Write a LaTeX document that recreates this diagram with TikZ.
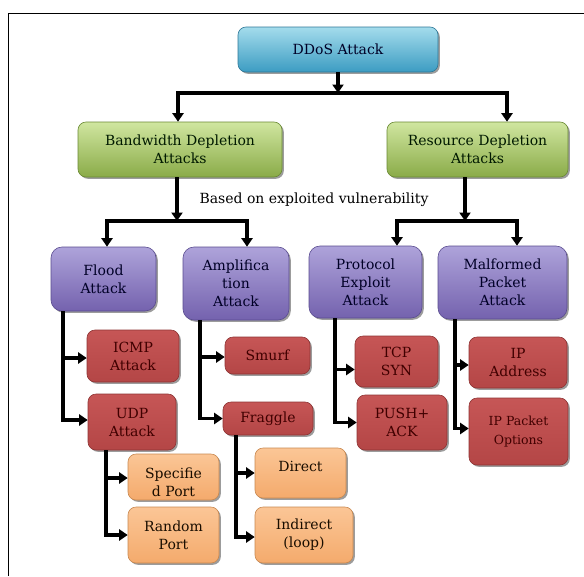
\documentclass[tikz,border=0pt]{standalone}
\usepackage{fontspec}
\setmainfont{DejaVu Serif}
\usetikzlibrary{arrows.meta,shadows}
\definecolor{bluetop}{HTML}{A4DCEC}
\definecolor{bluebot}{HTML}{3C9CC2}
\definecolor{blueedge}{HTML}{2E7898}
\definecolor{greentop}{HTML}{D0E6A0}
\definecolor{greenbot}{HTML}{8AAB48}
\definecolor{greenedge}{HTML}{6A8A34}
\definecolor{purptop}{HTML}{AEA3DA}
\definecolor{purpbot}{HTML}{7462AE}
\definecolor{purpedge}{HTML}{5A4C90}
\definecolor{redtop}{HTML}{C65656}
\definecolor{redmid}{HTML}{E69090}
\definecolor{redbot}{HTML}{B44646}
\definecolor{rededge}{HTML}{8E3434}
\definecolor{orgtop}{HTML}{FBC696}
\definecolor{orgbot}{HTML}{F4AA6C}
\definecolor{orgedge}{HTML}{C88850}
\tikzset{
  boxfont/.style={font=\fontsize{14}{18}\selectfont},
  box/.style={rounded corners=8pt, align=center, inner sep=2pt,
    boxfont, line width=0.6pt,
    drop shadow={shadow xshift=1.8pt, shadow yshift=-1.8pt, opacity=0.55, fill=black!70}},
  bluebox/.style={box, draw=blueedge, top color=bluetop, bottom color=bluebot, text=black!85!blue},
  greenbox/.style={box, draw=greenedge, top color=greentop, bottom color=greenbot, text=black!90!green},
  purpbox/.style={box, rounded corners=11pt, draw=purpedge, top color=purptop, bottom color=purpbot, text=black!85!blue},
  redbox/.style={box, draw=rededge, top color=redtop, middle color=redmid, bottom color=redbot, text=black!75!red},
  orgbox/.style={box, draw=orgedge, top color=orgtop, bottom color=orgbot, text=black!90!orange},
  wire/.style={line width=3.4pt, black},
  arr/.style={wire, -{Triangle[width=11pt,length=8.5pt]}},
}
\begin{document}
\begin{tikzpicture}[x=1pt,y=-1pt]
\useasboundingbox[fill=white] (0,0) rectangle (584,576);
\draw[line width=1pt] (8,576) -- (8,13) -- (584,13);

% level 0
\node[bluebox, minimum width=200pt, minimum height=45pt] (ddos) at (338,49.5) {DDoS Attack};
% level 1
\node[greenbox, minimum width=204pt, minimum height=55pt] (bw) at (180,149.5) {Bandwidth Depletion\\Attacks};
\node[greenbox, minimum width=181pt, minimum height=55pt] (rd) at (477.5,149.5) {Resource Depletion\\Attacks};
\node[boxfont] (based) at (314,200) {Based on exploited vulnerability};
% level 2
\node[purpbox, minimum width=105pt, minimum height=64pt] (flood) at (103.5,279) {Flood\\Attack};
\node[purpbox, minimum width=106pt, minimum height=73pt] (amp) at (236,283.5) {Amplifica\\tion\\Attack};
\node[purpbox, minimum width=113pt, minimum height=72pt] (proto) at (365.5,282) {Protocol\\Exploit\\Attack};
\node[purpbox, minimum width=129pt, minimum height=73pt] (malf) at (502.5,282.5) {Malformed\\Packet\\Attack};
% level 3
\node[redbox, minimum width=92pt, minimum height=52pt] (icmp) at (133,356) {ICMP\\Attack};
\node[redbox, minimum width=88pt, minimum height=56pt] (udp) at (132,422) {UDP\\Attack};
\node[redbox, minimum width=85pt, minimum height=37pt] (smurf) at (267.5,355.5) {Smurf};
\node[redbox, minimum width=90pt, minimum height=33pt] (fraggle) at (268,418.5) {Fraggle};
\node[redbox, minimum width=83pt, minimum height=51pt] (tcp) at (396.5,361.5) {TCP\\SYN};
\node[redbox, minimum width=90pt, minimum height=55pt] (push) at (402,422.5) {PUSH+\\ACK};
\node[redbox, minimum width=99pt, minimum height=67pt, font=\fontsize{12.5}{19}\selectfont] (ipo) at (518.5,431.5) {IP Packet\\Options};
\node[redbox, minimum width=98pt, minimum height=51pt] (ipa) at (518,362.5) {IP\\Address};
% level 4
\node[orgbox, minimum width=91pt, minimum height=46pt] (spec) at (173.5,477) {};
\node[boxfont, text=black!90!orange, align=center] (spectext) at (173.5,482) {Specifie\\d Port};
\node[orgbox, minimum width=91pt, minimum height=56pt] (rand) at (173.5,535) {Random\\Port};
\node[orgbox, minimum width=91pt, minimum height=50pt] (direct) at (300.5,473) {};
\node[boxfont, text=black!90!orange] (directtext) at (300.5,466) {Direct};
\node[orgbox, minimum width=98pt, minimum height=56pt] (indirect) at (304,535) {Indirect\\(loop)};

% junctions
\coordinate (j0) at (338,93);
\coordinate (j0l) at (178,93);
\coordinate (j0r) at (507,93);
\coordinate (j1) at (177,221);
\coordinate (j1l) at (107,221);
\coordinate (j1r) at (247,221);
\coordinate (j2) at (465,221);
\coordinate (j2l) at (397,221);
\coordinate (j2r) at (517,221);
\coordinate (sf) at (63,311);
\coordinate (sa) at (200,320);
\coordinate (sp) at (335,318);
\coordinate (sm) at (455,319);
\coordinate (su) at (106,450);
\coordinate (sg) at (236,435);

% top level
\draw[arr] (ddos.south -| j0) -- (j0);
\draw[wire] ([xshift=-1.7pt]j0l) -- ([xshift=1.7pt]j0r);
\draw[arr] (j0l) -- (bw.north -| j0l);
\draw[arr] (j0r) -- (rd.north -| j0r);
% bandwidth
\draw[arr] (bw.south -| j1) -- (j1);
\draw[wire] ([xshift=-1.7pt]j1l) -- ([xshift=1.7pt]j1r);
\draw[arr] (j1l) -- (flood.north -| j1l);
\draw[arr] (j1r) -- (amp.north -| j1r);
% resource
\draw[arr] (rd.south -| j2) -- (j2);
\draw[wire] ([xshift=-1.7pt]j2l) -- ([xshift=1.7pt]j2r);
\draw[arr] (j2l) -- (proto.north -| j2l);
\draw[arr] (j2r) -- (malf.north -| j2r);
% flood
\draw[arr] (sf) |- ([yshift=2pt]udp.west);
\draw[arr] ([yshift=-2pt]icmp.west -| sf) -- ([yshift=-2pt]icmp.west);
% amplification
\draw[arr] (sa) |- (fraggle.west);
\draw[arr] ([yshift=-1.5pt]smurf.west -| sa) -- ([yshift=-1.5pt]smurf.west);
% protocol
\draw[arr] (sp) |- (push.west);
\draw[arr] ([yshift=-8pt]tcp.west -| sp) -- ([yshift=-8pt]tcp.west);
% malformed
\draw[arr] (sm) |- ([yshift=3pt]ipo.west);
\draw[arr] ([yshift=-2.5pt]ipa.west -| sm) -- ([yshift=-2.5pt]ipa.west);
% udp
\draw[arr] (su) |- (rand.west);
\draw[arr] ([yshift=-1pt]spec.west -| su) -- ([yshift=-1pt]spec.west);
% fraggle
\draw[arr] (sg) |- ([yshift=-2pt]indirect.west);
\draw[arr] (direct.west -| sg) -- (direct.west);
\end{tikzpicture}
\end{document}
